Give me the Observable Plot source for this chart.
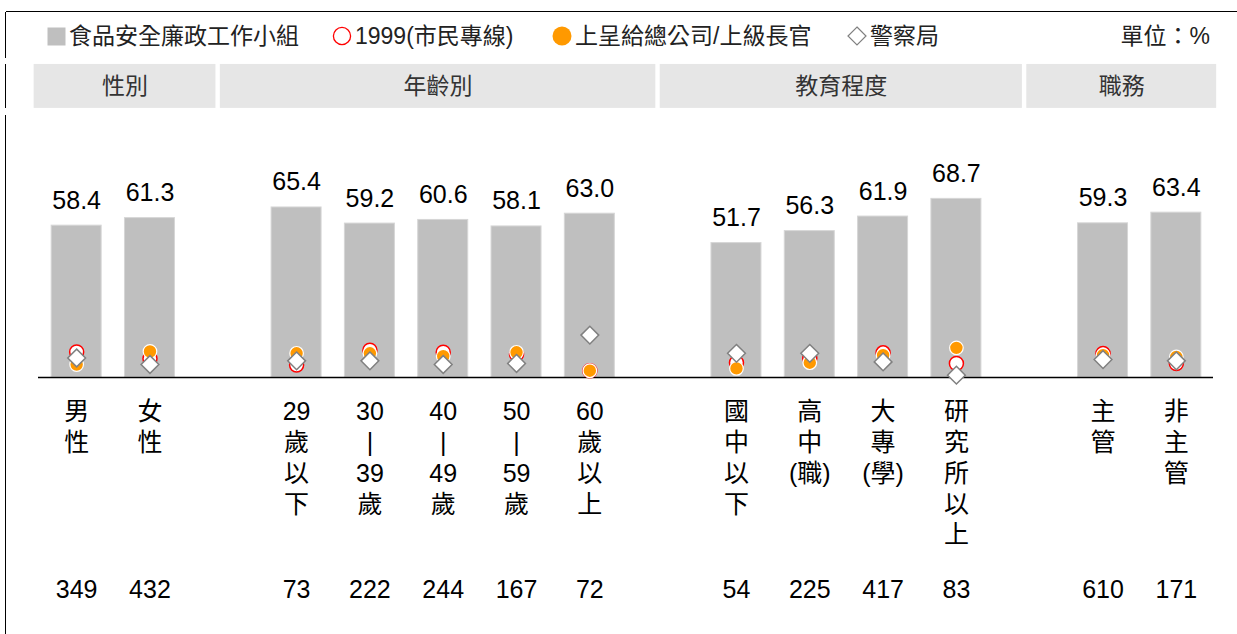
<!DOCTYPE html>
<html>
<head>
<meta charset="utf-8">
<script src="https://cdn.jsdelivr.net/npm/d3@7"></script>
<script src="https://cdn.jsdelivr.net/npm/@observablehq/plot@0.6"></script>
<style>
  body { margin: 0; background: #fff; }
  #wrap { position: relative; width: 1237px; height: 634px; overflow: hidden;
          font-family: "Liberation Sans", Arial, "Noto Sans CJK TC", sans-serif; }
  .fTop { position: absolute; left: 6px; top: 11px; width: 1231px; border-top: 1.5px solid #000; }
  .fLeft { position: absolute; left: 5px; width: 0; border-left: 1.5px solid #000; }
  .li { position: absolute; top: 24px; height: 24px; line-height: 24px; font-size: 23px; color: #222;
        white-space: nowrap; display: flex; align-items: center; }
  .li svg { margin-right: 3px; }
  #chart { position: absolute; left: 0; top: 58px; }
</style>
</head>
<body>
<div id="wrap">
  <div class="fTop"></div>
  <div class="fLeft" style="top:12px;height:46px"></div>
  <div class="fLeft" style="top:64px;height:44px"></div>
  <div class="fLeft" style="top:115px;height:519px"></div>
  <div id="legend"></div>
  <div id="chart"></div>
</div>
<script>
// ---- data ----
const categories = ["男性","女性","29歲以下","30-39歲","40-49歲","50-59歲","60歲以上","國中以下","高中(職)","大專(學)","研究所以上","主管","非主管"];
const labelLines = [
  ["男","性"],["女","性"],
  ["29","歲","以","下"],["30","|","39","歲"],["40","|","49","歲"],["50","|","59","歲"],["60","歲","以","上"],
  ["國","中","以","下"],["高","中","(職)"],["大","專","(學)"],["研","究","所","以","上"],
  ["主","管"],["非","主","管"]
];
const groupNames = ["性別","年齡別","教育程度","職務"];
const groupSizes = [2,5,4,2];
const seriesNames = ["食品安全廉政工作小組","1999(市民專線)","上呈給總公司/上級長官","警察局"];
const agency   = [58.4,61.3,65.4,59.2,60.6,58.1,63.0,51.7,56.3,61.9,68.7,59.3,63.4];
const hotline  = [9.8,7.2,4.8,10.5,9.7,8.9,2.6,5.7,7.3,9.5,5.4,9.2,5.4];
const superior = [5.0,10.0,9.3,9.3,8.2,9.7,2.6,3.5,5.7,8.6,11.4,8.6,7.9];
const police   = [7.5,5.0,6.4,6.4,5.0,5.4,16.3,9.3,9.3,6.0,0.9,6.9,6.4];
const sampleN  = [349,432,73,222,244,167,72,54,225,417,83,610,171];
const unitLabel = "單位：%";

// ---- derived tables ----
const groupOf = groupSizes.flatMap((s, g) => Array(s).fill(g));
const rows = categories.map((c, i) => ({
  cat: c, slot: i + groupOf[i], label: labelLines[i].join("\n"),
  agency: agency[i], hotline: hotline[i], superior: superior[i], police: police[i], n: sampleN[i]
}));
let k = 0;
const groups = groupNames.map((name, g) => {
  const s = rows[k].slot, e = rows[k + groupSizes[g] - 1].slot;
  k += groupSizes[g];
  const first = g === 0, last = g === groupNames.length - 1;
  return { name, x1: first ? s - 0.58 : s - 1.04, x2: last ? e + 0.55 : e + 0.9 };
});

// ---- legend (HTML) ----
const COLORS = { bar: "#bfbfbf", red: "#ff0000", orange: "#ff9900", diamond: "#808080" };
const symbols = [
  `<svg width="19" height="19"><rect x="0.5" y="0.5" width="18" height="18" fill="${COLORS.bar}"/></svg>`,
  `<svg width="20" height="20"><circle cx="10" cy="10" r="8.6" fill="#fff" stroke="${COLORS.red}" stroke-width="1.3"/></svg>`,
  `<svg width="20" height="20"><circle cx="10" cy="10" r="9.5" fill="${COLORS.orange}"/></svg>`,
  `<svg width="20" height="20"><polygon points="10,1 19,10 10,19 1,10" fill="#fff" stroke="${COLORS.diamond}" stroke-width="1.2"/></svg>`
];
const legendLeft = [47, 332, 552, 847];
const legend = document.getElementById("legend");
seriesNames.forEach((name, i) => {
  const d = document.createElement("div");
  d.className = "li";
  d.style.left = legendLeft[i] + "px";
  d.innerHTML = symbols[i] + `<span>${name}</span>`;
  legend.appendChild(d);
});
const u = document.createElement("div");
u.className = "li";
u.style.right = "27px";
u.textContent = unitLabel;
legend.appendChild(u);

// ---- chart ----
const H = 576;
const HEADER_Y1 = 103.5, HEADER_Y2 = 120.4;
const FONT = "'Liberation Sans', Arial, 'Noto Sans CJK TC', sans-serif";
const plot = Plot.plot({
  width: 1237,
  height: H,
  marginLeft: 39.5,
  marginRight: 24.5,
  marginTop: 59,
  marginBottom: 257,
  style: { fontFamily: FONT, background: "transparent", overflow: "visible" },
  x: { axis: null, domain: [-0.5, 15.5] },
  y: { axis: null, domain: [0, 100] },
  marks: [
    Plot.rect(groups, { x1: "x1", x2: "x2", y1: HEADER_Y1, y2: HEADER_Y2, fill: "#e6e6e6" }),
    Plot.text(groups, { x: d => (d.x1 + d.x2) / 2, y: (HEADER_Y1 + HEADER_Y2) / 2, text: "name",
      fontSize: 23, fill: "#333", lineAnchor: "middle" }),
    Plot.rect(rows, { x1: d => d.slot - 0.341, x2: d => d.slot + 0.341, y1: 0, y2: "agency",
      fill: COLORS.bar, stroke: "#d6d6d6", strokeWidth: 1 }),
    Plot.text(rows, { x: "slot", y: "agency", text: d => d.agency.toFixed(1), dy: -17,
      lineAnchor: "bottom", fontSize: 25, fill: "#000" }),
    Plot.ruleY([0], { stroke: "#000", strokeWidth: 1.5, insetLeft: -1.5, insetRight: -0.5 }),
    Plot.dot(rows, { x: "slot", y: "hotline", r: 7, fill: "#fff", stroke: COLORS.red, strokeWidth: 1.5 }),
    Plot.dot(rows, { x: "slot", y: "superior", r: 6.8, fill: COLORS.orange, stroke: "#fff", strokeWidth: 1.2 }),
    Plot.dot(rows, { x: "slot", y: "police", symbol: "diamond2", r: 8, fill: "#fff", stroke: COLORS.diamond, strokeWidth: 1.5 }),
    Plot.text(rows, { x: "slot", y: 0, text: "label", dy: 21, lineAnchor: "top", lineHeight: 1.23,
      fontSize: 25, fill: "#000" }),
    Plot.text(rows, { x: "slot", y: 0, text: d => String(d.n), dy: 212, lineAnchor: "middle",
      fontSize: 25, fill: "#000" })
  ]
});
document.getElementById("chart").appendChild(plot);
</script>
</body>
</html>
